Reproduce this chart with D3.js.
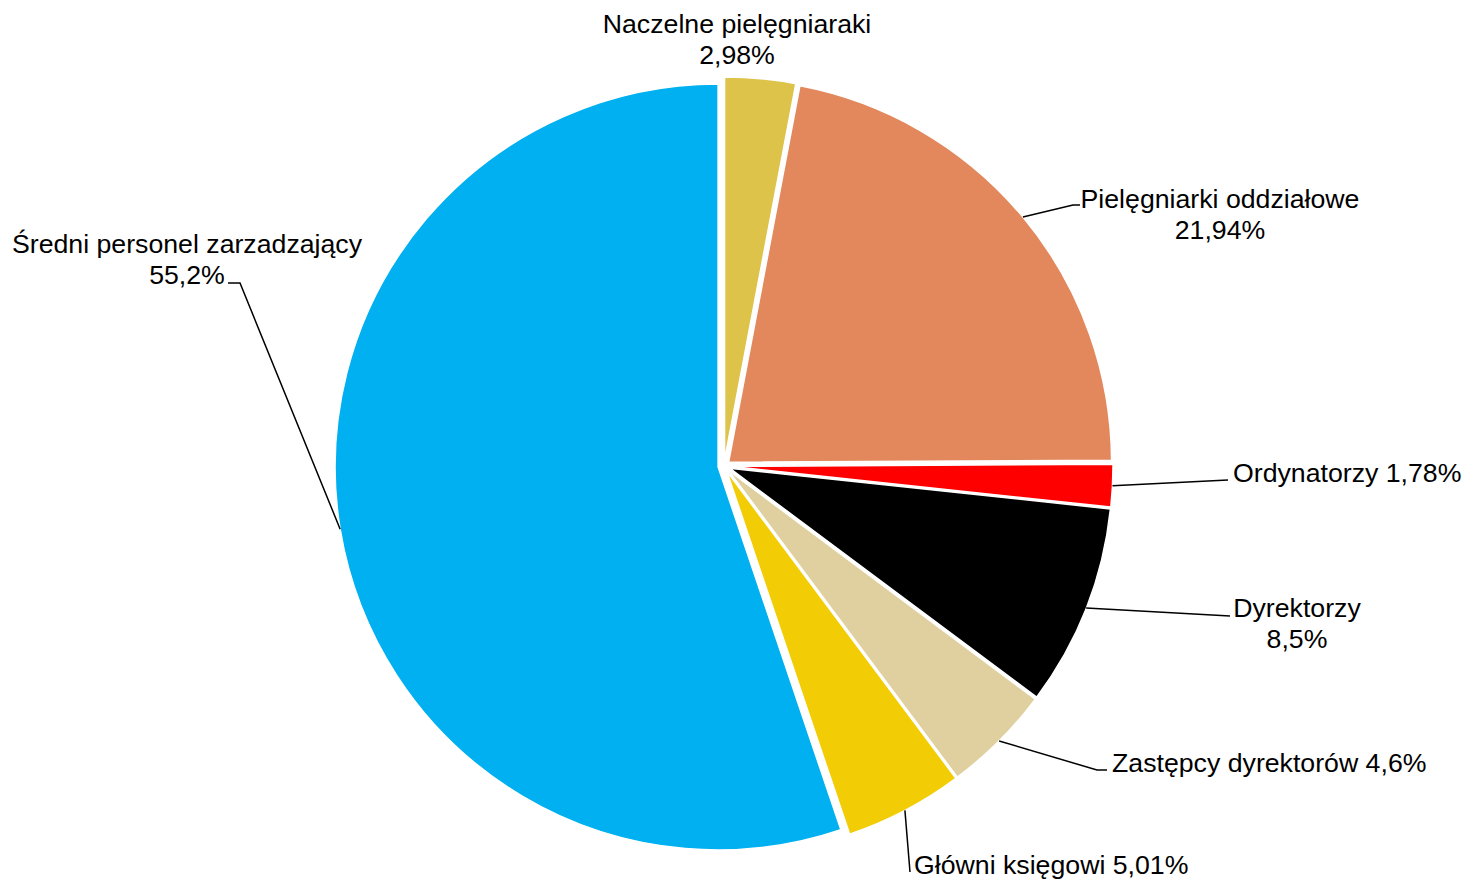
<!DOCTYPE html>
<html>
<head>
<meta charset="utf-8">
<script src="https://cdn.jsdelivr.net/npm/d3@7"></script>
<style>
  body { margin: 0; background: #fff; }
  text { font-family: Arial, "Liberation Sans", sans-serif; font-size: 26.7px; fill: #000; }
</style>
</head>
<body>
<div id="chart"></div>
<script>
var width = 1463;
var height = 881;

// data
var categories = ["Naczelne pielęgniaraki", "Pielęgniarki oddziałowe", "Ordynatorzy", "Dyrektorzy",
    "Zastępcy dyrektorów", "Główni księgowi", "Średni personel zarzadzający"];
var values = [2.98, 21.94, 1.78, 8.5, 4.6, 5.01, 55.2];
var valueLabels = ["2,98%", "21,94%", "1,78%", "8,5%", "4,6%", "5,01%", "55,2%"];
var colors = ["#DEC34A", "#E2885C", "#FF0000", "#000000", "#E0D09F", "#F2CC04", "#00B0F0"];

// label layout: x, first baseline, anchor, two lines?, leader path after the slice point
var labelLayout = [
    {x: 737, y: 33, anchor: "middle", split: true, leader: null},
    {x: 1220, y: 208, anchor: "middle", split: true, leader: [[1073, 205], [1080, 205]]},
    {x: 1233, y: 482, anchor: "start", split: false, leader: [[1228, 480]]},
    {x: 1297, y: 617, anchor: "middle", split: true, leader: [[1230, 616]]},
    {x: 1112, y: 772, anchor: "start", split: false, leader: [[1097, 770], [1107, 770]]},
    {x: 914, y: 874, anchor: "start", split: false, leader: [[910, 872]]},
    {x: 187, y: 253, anchor: "middle", split: true, leader: [[240, 283], [228, 283]]}
];

var cx = 724, cy = 466, radius = 383, explode = 6;

var svg = d3.select("#chart").append("svg")
    .attr("width", width)
    .attr("height", height);

var pie = d3.pie().sort(null).value(d => d);
var arcs = pie(values);

var arc = d3.arc().innerRadius(0).outerRadius(radius);

function offset(d, r){
    var a = (d.startAngle + d.endAngle) / 2;
    return [Math.sin(a) * r, -Math.cos(a) * r];
}

var g = svg.append("g").attr("transform", "translate(" + cx + "," + cy + ")");

g.selectAll(".slice")
    .data(arcs)
    .enter()
    .append("path")
    .attr("class", "slice")
    .attr("d", arc)
    .attr("transform", d => { var o = offset(d, explode); return "translate(" + o[0] + "," + o[1] + ")"; })
    .attr("fill", (d, i) => colors[i])
    .attr("stroke", "#fff")
    .attr("stroke-width", 1.5);

// leader lines
var line = d3.line();
arcs.forEach(function(d, i){
    var lay = labelLayout[i];
    if (!lay.leader) return;
    var o = offset(d, explode);
    var edge = offset(d, radius);
    var pts = [[cx + o[0] + edge[0], cy + o[1] + edge[1]]].concat(lay.leader);
    svg.append("path")
        .attr("d", line(pts))
        .attr("fill", "none")
        .attr("stroke", "#000")
        .attr("stroke-width", 1.5);
});

// labels
labelLayout.forEach(function(lay, i){
    var t = svg.append("text")
        .attr("x", lay.x)
        .attr("y", lay.y)
        .attr("text-anchor", lay.anchor);
    if (lay.split){
        t.append("tspan").attr("x", lay.x).text(categories[i]);
        t.append("tspan").attr("x", lay.x).attr("dy", 31).text(valueLabels[i]);
    } else {
        t.text(categories[i] + " " + valueLabels[i]);
    }
});
</script>
</body>
</html>
